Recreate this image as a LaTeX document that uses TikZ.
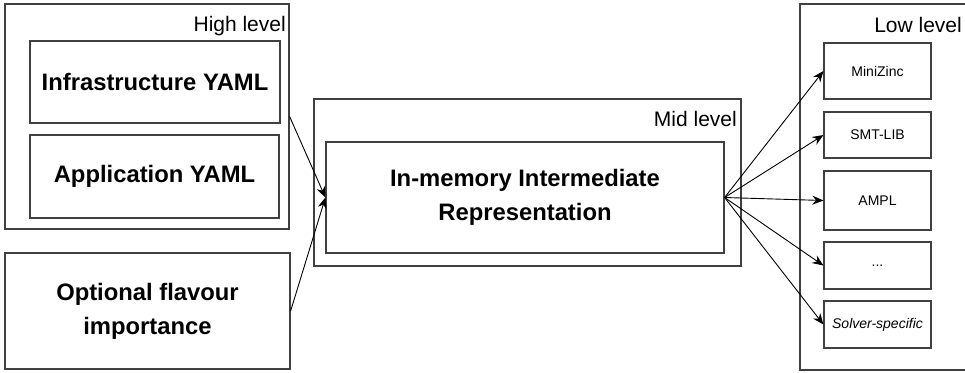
\documentclass[tikz,border=0pt]{standalone}
\usepackage{fontspec}
\setmainfont{Liberation Sans}
\usetikzlibrary{arrows.meta}

\begin{document}
\begin{tikzpicture}[x=1pt,y=-1pt,
    frame/.style={draw=black!75,line width=1.2pt,inner sep=0pt},
    bigbox/.style={frame,align=center,font=\fontsize{23.8}{34}\selectfont\bfseries},
    solverbox/.style={frame,minimum width=107pt,font=\fontsize{14}{17}\selectfont},
    tag/.style={anchor=base east,inner sep=0pt,font=\fontsize{21}{25}\selectfont},
    link/.style={-{Stealth[length=11pt,width=9pt]},line width=0.9pt}]
  \useasboundingbox (0,0) rectangle (965,372);

  % high level
  \node[frame,minimum width=284pt,minimum height=225pt] (high) at (147,116.5) {};
  \node[tag] (hightag) at (286,31) {High level};
  \node[bigbox,minimum width=250pt,minimum height=82pt] (infra) at (155,82) {Infrastructure YAML};
  \node[bigbox,minimum width=249pt,minimum height=83pt] (app) at (154.5,176.5) {Application YAML};
  \node[bigbox,minimum width=285pt,minimum height=116pt] (opt) at (147.5,311) {Optional flavour\\importance};

  % mid level
  \node[frame,minimum width=427pt,minimum height=167pt] (mid) at (527.5,182.5) {};
  \node[tag] (midtag) at (737,126) {Mid level};
  \node[bigbox,minimum width=398pt,minimum height=111pt] (ir) at (525,197.5) {In-memory Intermediate\\Representation};

  % low level (runs off the right edge)
  \node[frame,minimum width=200pt,minimum height=366pt] (low) at (900,187) {};
  \node[tag] (lowtag) at (962,32) {Low level};
  \node[solverbox,minimum height=56pt] (mzn) at (877.5,71) {MiniZinc};
  \node[solverbox,minimum height=46pt] (smt) at (877.5,135) {SMT-LIB};
  \node[solverbox,minimum height=59pt] (ampl) at (877.5,200.5) {AMPL};
  \node[solverbox,minimum height=47pt] (etc) at (877.5,265.5) {...};
  \node[solverbox,minimum height=47pt] (spec) at (877.5,324.5) {\itshape Solver-specific};

  \draw[link] (high.east) -- (ir.west);
  \draw[link] (opt.east) -- (ir.west);
  \foreach \t in {mzn,smt,ampl,etc,spec}
    \draw[link] (ir.east) -- (\t.west);
\end{tikzpicture}
\end{document}
